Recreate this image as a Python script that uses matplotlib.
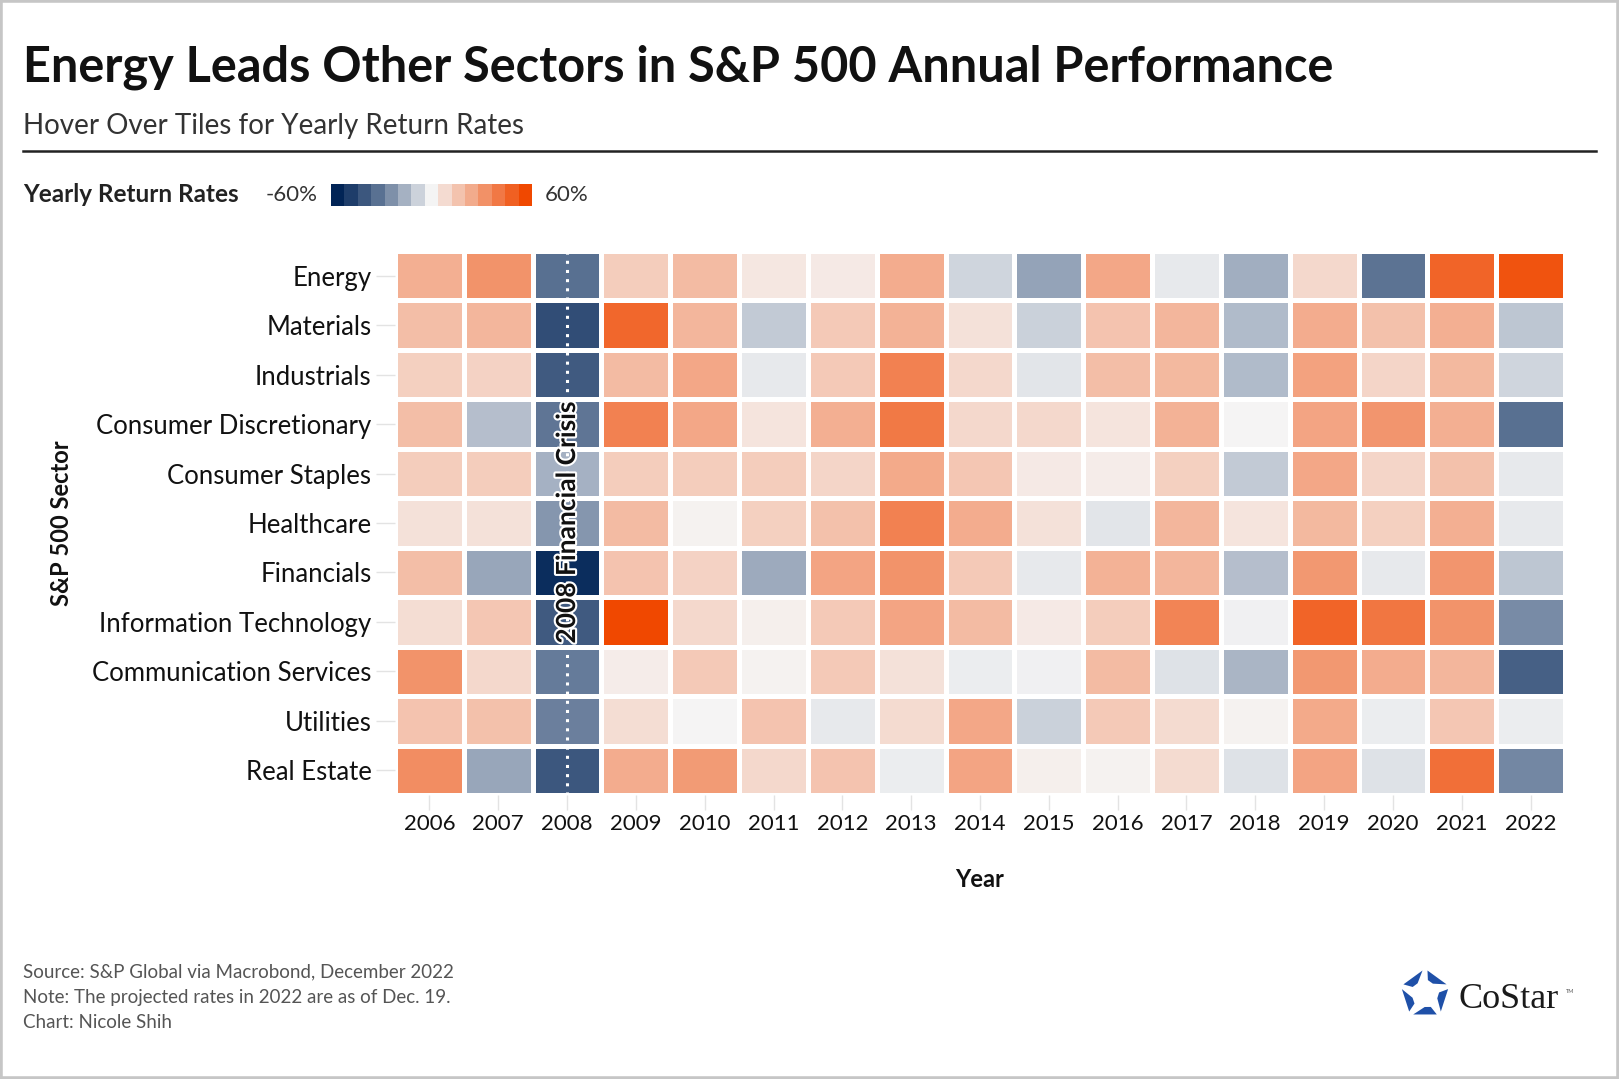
import numpy as np
import matplotlib
matplotlib.use("Agg")
import matplotlib.pyplot as plt
import matplotlib.patheffects as pe
from matplotlib.colors import LinearSegmentedColormap
from matplotlib.patches import Rectangle, Polygon

W, H = 1619, 1079

sectors = ["Energy", "Materials", "Industrials", "Consumer Discretionary",
           "Consumer Staples", "Healthcare", "Financials", "Information Technology",
           "Communication Services", "Utilities", "Real Estate"]
years = list(range(2006, 2023))

# yearly return rates (%)
energy        = [24, 34, -35, 14, 20, 5, 4, 25, -8, -21, 27, -3, -18, 10, -34, 50, 56]
materials     = [19, 22, -46, 49, 22, -11, 15, 23, 7, -9, 17, 22, -15, 25, 18, 24, -12]
industrials   = [13, 12, -42, 20, 27, -3, 15, 40, 10, -4, 19, 21, -15, 29, 11, 21, -8]
cons_discr    = [19, -14, -33, 40, 27, 6, 24, 43, 10, 10, 6, 23, 0, 28, 33, 24, -35]
cons_staples  = [14, 14, -17, 14, 14, 14, 11, 26, 16, 4, 3, 13, -11, 27, 11, 18, -3]
healthcare    = [7, 7, -24, 20, 1, 13, 18, 40, 25, 7, -4, 22, 6, 21, 13, 24, -3]
financials    = [19, -20, -57, 17, 12, -19, 28, 34, 15, -3, 23, 22, -14, 32, -3, 33, -12]
info_tech     = [8, 16, -42, 62, 10, 2, 15, 28, 20, 4, 14, 39, -1, 50, 44, 34, -27]
comm_services = [34, 10, -31, 3, 15, 1, 15, 7, -2, -1, 20, -5, -16, 32, 25, 22, -40]
utilities     = [17, 18, -30, 8, 0, 17, -3, 9, 27, -9, 15, 9, 1, 26, -2, 16, -2]
real_estate   = [36, -20, -43, 25, 31, 10, 17, -2, 28, 2, 1, 9, -5, 28, -5, 46, -28]

returns = np.array([energy, materials, industrials, cons_discr, cons_staples,
                    healthcare, financials, info_tech, comm_services, utilities,
                    real_estate], dtype=float)

cmap = LinearSegmentedColormap.from_list(
    "ret", [(0.0, "#012456"), (0.25, "#6a7f9d"), (0.5, "#f5f5f5"), (1.0, "#f04800")])

FONT = "Lato"
plt.rcParams["font.family"] = [FONT, "DejaVu Sans"]


def fx(x):
    return x / W


def fy(y):
    return 1 - y / H


fig = plt.figure(figsize=(W / 100, H / 100), dpi=100)
fig.patch.set_facecolor("white")

# frame
fig.patches.append(Rectangle((0, 0), 1, 1, transform=fig.transFigure,
                             fill=False, edgecolor="#c6c6c6", lw=4))

# titles
fig.text(fx(23), fy(82), "Energy Leads Other Sectors in S&P 500 Annual Performance",
         fontsize=35, fontweight="bold", color="#111111", ha="left", va="baseline")
fig.text(fx(23), fy(134), "Hover Over Tiles for Yearly Return Rates",
         fontsize=20, color="#333333", ha="left", va="baseline")
fig.add_artist(plt.Line2D([fx(23), fx(1596)], [fy(151), fy(151)],
                          transform=fig.transFigure, color="#222222", lw=1.8))

# legend
fig.text(fx(23), fy(195), "Yearly Return Rates", fontsize=17.5, fontweight="bold",
         color="#222222", ha="left", va="center")
fig.text(fx(318), fy(195), "-60%", fontsize=16, color="#333333", ha="right", va="center")
fig.text(fx(545), fy(195), "60%", fontsize=16, color="#333333", ha="left", va="center")
lax = fig.add_axes([fx(331), fy(206), fx(532) - fx(331), (206 - 184) / H])
steps = np.linspace(-60, 60, 15)
lax.imshow(steps[np.newaxis, :], cmap=cmap, vmin=-60, vmax=60, aspect="auto",
           interpolation="nearest", extent=[0, 1, 0, 1])
lax.set_axis_off()

# heatmap
ax = fig.add_axes([fx(395), fy(795), fx(1565) - fx(395), (795 - 251) / H])
ax.pcolormesh(np.arange(len(years) + 1) - 0.5, np.arange(len(sectors) + 1) - 0.5,
              returns, cmap=cmap, vmin=-60, vmax=60,
              edgecolors="white", linewidth=2.2)
ax.set_xlim(-0.5, len(years) - 0.5)
ax.set_ylim(len(sectors) - 0.5, -0.5)
for s in ax.spines.values():
    s.set_visible(False)

ax.set_xticks(range(len(years)))
ax.set_xticklabels([str(y) for y in years])
ax.set_yticks(range(len(sectors)))
ax.set_yticklabels(sectors)
ax.tick_params(axis="x", length=11, width=1, color="#e3e3e3", labelsize=16,
               labelcolor="#111111", pad=3)
ax.tick_params(axis="y", length=14, width=1, color="#e3e3e3", labelsize=18.5,
               labelcolor="#111111", pad=3)
ax.set_xlabel("Year", fontsize=17, fontweight="bold", color="#111111", labelpad=24)
ax.set_ylabel("S&P 500 Sector", fontsize=17, fontweight="bold", color="#111111",
              labelpad=14)

# 2008 crisis annotation
x08 = years.index(2008)
ax.axvline(x08, color="white", lw=2.2, linestyle=(0, (1, 2)))
ax.text(x08, (len(sectors) - 1) / 2, "2008 Financial Crisis", rotation=90,
        ha="center", va="center", fontsize=19, fontweight="bold", color="#111111",
        path_effects=[pe.withStroke(linewidth=3, foreground="white")])

# footnotes
notes = ["Source: S&P Global via Macrobond, December 2022",
         "Note: The projected rates in 2022 are as of Dec. 19.",
         "Chart: Nicole Shih"]
for i, t in enumerate(notes):
    fig.text(fx(23), fy(972 + 25.5 * i), t, fontsize=13.5, color="#555555",
             ha="left", va="center")

# CoStar logo
gax = fig.add_axes([fx(1399), fy(1020), fx(52), 52 / H])
gax.set_xlim(-1.1, 1.1)
gax.set_ylim(-1.1, 1.1)
gax.set_aspect("equal")
gax.set_axis_off()
for k in range(5):
    a0 = np.deg2rad(90 + 72 * k + 6)
    a1 = np.deg2rad(90 + 72 * (k + 1) - 6)
    pts = [(np.cos(a0), np.sin(a0)), (np.cos(a1), np.sin(a1)),
           (0.6 * np.cos(a1 - 0.1), 0.6 * np.sin(a1 - 0.1)),
           (0.55 * np.cos(a0 + 0.5), 0.55 * np.sin(a0 + 0.5))]
    gax.add_patch(Polygon(pts, closed=True, facecolor="#1f50a8", edgecolor="none"))
fig.text(fx(1458), fy(1008), "CoStar", fontsize=26, family="Liberation Serif",
         color="#1a1a1a", ha="left", va="baseline")
fig.text(fx(1566), fy(993), "TM", fontsize=4, color="#555555", ha="left",
         va="baseline")

fig.savefig("out.png", dpi=100)
